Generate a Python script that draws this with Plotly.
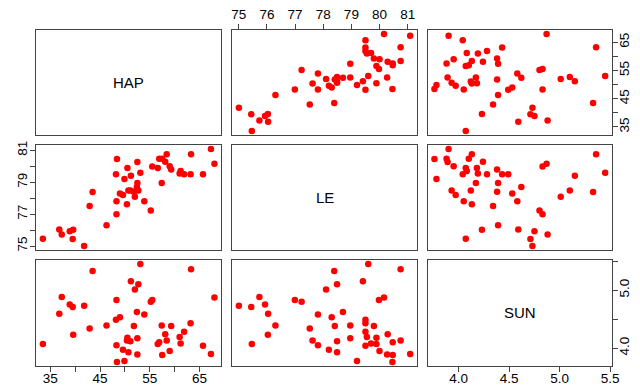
import plotly.graph_objects as go

# Data: each observation (HAP, LE, SUN)
HAP = [33.5, 36.8, 37.3, 38.9, 39.6, 39.5, 41.8, 42.9, 43.5, 46.3,
       48.3, 48.3, 48.2, 48.4, 49.0, 49.6, 49.9, 50.4, 50.5, 50.7,
       51.1, 51.2, 51.8, 52.0, 52.5, 52.5, 52.4, 52.7, 53.1, 53.9,
       55.2, 55.5, 56.6, 56.9, 57.4, 57.5, 58.1, 58.4, 59.0, 59.3,
       61.0, 61.2, 61.9, 63.2, 63.3, 65.7, 67.3, 68.0]
LE = [75.46, 76.04, 75.73, 75.93, 76.03, 75.44, 75.00, 77.52, 78.39, 76.30,
      76.99, 77.81, 79.50, 80.46, 78.30, 78.20, 79.20, 77.62, 79.89, 78.49,
      78.49, 79.41, 78.41, 78.10, 80.27, 78.96, 78.70, 78.49, 79.60, 77.81,
      77.23, 79.98, 79.89, 80.47, 78.96, 80.47, 80.29, 80.75, 80.00, 79.80,
      79.55, 79.70, 79.50, 79.50, 80.75, 79.50, 81.09, 80.16]
SUN = [4.07, 4.59, 4.88, 4.75, 4.23, 4.71, 4.73, 4.34, 5.33, 4.39,
       4.83, 4.05, 4.49, 3.76, 4.53, 3.97, 3.78, 4.13, 4.18, 3.93,
       4.12, 5.15, 4.38, 5.01, 3.89, 4.17, 4.62, 5.10, 5.45, 4.58,
       4.80, 4.83, 4.07, 4.10, 4.39, 3.88, 4.24, 4.13, 3.95, 4.38,
       4.19, 4.08, 4.28, 4.43, 5.36, 4.04, 3.90, 4.87]

var_names = ["HAP", "LE", "SUN"]
var_data = [HAP, LE, SUN]

HAP_ticks = [35, 40, 45, 50, 55, 60, 65]
HAP_labels_alt = ["35", "", "45", "", "55", "", "65"]
LE_ticks = [75, 76, 77, 78, 79, 80, 81]
LE_labels_all = ["75", "76", "77", "78", "79", "80", "81"]
LE_labels_alt = ["75", "", "77", "", "79", "", "81"]
SUN_ticks = [4.0, 4.5, 5.0, 5.5]
SUN_labels_all = ["4.0", "4.5", "5.0", "5.5"]
SUN_labels_alt = ["4.0", "", "5.0", ""]


def padded(v):
    lo, hi = min(v), max(v)
    d = (hi - lo) * 0.04
    return [lo - d, hi + d]


ranges = [padded(v) for v in var_data]

# domains (plot area fractions)
col_dom = [[0.0, 0.3217], [0.3403, 0.6615], [0.6799, 1.0]]
row_dom = [[0.6875, 1.0], [0.3452, 0.6577], [0.0, 0.3155]]

fig = go.Figure()
font_tick = dict(family="Liberation Sans, Arial, sans-serif", size=13.5, color="black")
axcol = "#444444"

base_axis = dict(showgrid=False, zeroline=False, showline=True, mirror=True,
                 linecolor=axcol, linewidth=1, ticks="", showticklabels=False,
                 tickfont=font_tick, ticklen=5, tickcolor=axcol, fixedrange=True,
                 automargin=False)

layout = {}
for i in range(3):
    for j in range(3):
        k = i * 3 + j + 1
        xname = "xaxis" if k == 1 else f"xaxis{k}"
        yname = "yaxis" if k == 1 else f"yaxis{k}"
        xref = "x" if k == 1 else f"x{k}"
        yref = "y" if k == 1 else f"y{k}"
        xa = dict(base_axis, domain=col_dom[j], anchor=yref, range=ranges[j])
        ya = dict(base_axis, domain=row_dom[i], anchor=xref, range=ranges[i])
        # x axes ticks
        if i == 2 and j == 0:
            xa.update(ticks="outside", showticklabels=True, tickvals=HAP_ticks,
                      ticktext=HAP_labels_alt, side="bottom", ticklabelstandoff=-5)
        if i == 0 and j == 1:
            xa.update(ticks="outside", showticklabels=True, tickvals=LE_ticks,
                      ticktext=LE_labels_all, side="top")
        if i == 2 and j == 2:
            xa.update(ticks="outside", showticklabels=True, tickvals=SUN_ticks,
                      ticktext=SUN_labels_all, side="bottom", ticklabelstandoff=-5)
        # y axes ticks
        if i == 0 and j == 2:
            ya.update(ticks="outside", showticklabels=True, tickvals=HAP_ticks,
                      ticktext=HAP_labels_alt, side="right", tickangle=-90,
                      ticklabelstandoff=-5)
        if i == 1 and j == 0:
            ya.update(ticks="outside", showticklabels=True, tickvals=LE_ticks,
                      ticktext=LE_labels_alt, side="left", tickangle=-90,
                      ticklabelstandoff=-2)
        if i == 2 and j == 2:
            ya.update(ticks="outside", showticklabels=True, tickvals=SUN_ticks,
                      ticktext=SUN_labels_alt, side="right", tickangle=-90,
                      ticklabelstandoff=-5)
        layout[xname] = xa
        layout[yname] = ya
        if i != j:
            fig.add_trace(go.Scatter(x=var_data[j], y=var_data[i], mode="markers",
                                     marker=dict(color="#FF0000", size=6.5),
                                     xaxis=xref, yaxis=yref, showlegend=False,
                                     hoverinfo="skip"))
        else:
            fig.add_annotation(x=sum(ranges[j]) / 2, y=sum(ranges[i]) / 2,
                               xref=xref, yref=yref, text=var_names[i],
                               showarrow=False,
                               font=dict(family="Liberation Sans, Arial, sans-serif",
                                         size=15, color="black"))

fig.update_layout(**layout)
fig.update_layout(width=640, height=387, paper_bgcolor="white", plot_bgcolor="white",
                  margin=dict(l=36, r=28, t=30, b=21), showlegend=False)

fig.write_html("out.html", config={"displayModeBar": False},
               post_script="document.body.style.margin='0';document.body.style.overflow='hidden';")
